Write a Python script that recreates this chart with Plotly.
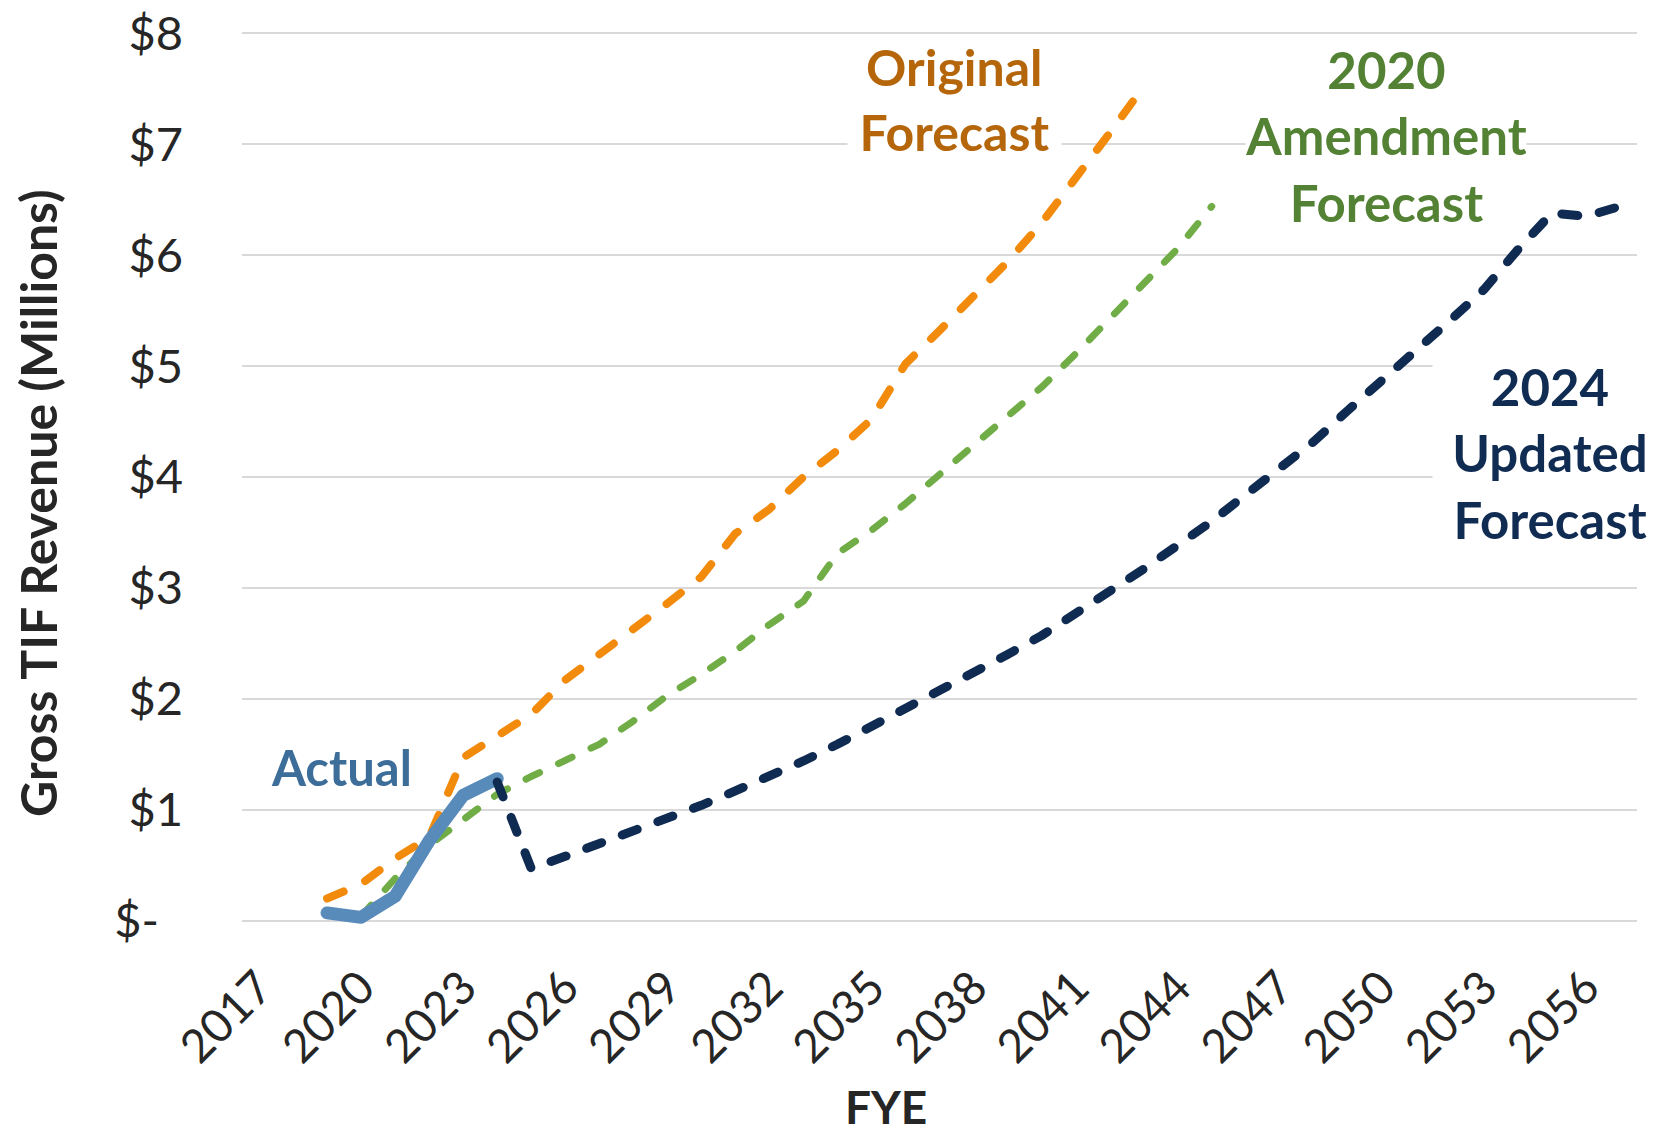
import plotly.graph_objects as go

# ---- data ----
actual_years = [2019, 2020, 2021, 2022, 2023, 2024]
actual_vals = [0.07, 0.03, 0.22, 0.72, 1.13, 1.28]

original_years = list(range(2019, 2044))
original_vals = [0.20, 0.33, 0.56, 0.75, 1.47, 1.66, 1.86, 2.17, 2.41, 2.63,
                 2.86, 3.10, 3.49, 3.71, 4.00, 4.24, 4.52, 5.02, 5.32, 5.63,
                 5.94, 6.29, 6.69, 7.10, 7.52]

amend_years = list(range(2020, 2046))
amend_vals = [0.04, 0.38, 0.68, 0.92, 1.14, 1.30, 1.45, 1.59, 1.80, 2.03,
              2.22, 2.43, 2.67, 2.88, 3.31, 3.52, 3.76, 4.02, 4.29, 4.53,
              4.81, 5.11, 5.42, 5.75, 6.06, 6.44]

updated_years = list(range(2024, 2058))
updated_vals = [1.25, 0.47, 0.58, 0.69, 0.80, 0.92, 1.04, 1.17, 1.30, 1.44,
                1.59, 1.75, 1.91, 2.06, 2.22, 2.40, 2.57, 2.76, 2.97, 3.17,
                3.38, 3.60, 3.84, 4.07, 4.32, 4.60, 4.86, 5.14, 5.41, 5.69,
                6.05, 6.38, 6.35, 6.44]

x_tick_years = list(range(2017, 2058, 3))
y_tick_vals = [0, 1, 2, 3, 4, 5, 6, 7, 8]
y_tick_text = ["$-", "$1", "$2", "$3", "$4", "$5", "$6", "$7", "$8"]

# ---- styling / geometry ----
FONT = "Lato"
W, H = 1665, 1136
Y_TOP_PX, Y_BOT_PX = 33, 921      # pixel rows of $8 and $- gridlines
X_LEFT_PX, X_RIGHT_PX = 242, 1637  # plot area edges
PAD = 0.03                         # small range padding so edge gridlines render
px_per_unit = (Y_BOT_PX - Y_TOP_PX) / 8.0
T = Y_TOP_PX - PAD * px_per_unit
B = H - Y_BOT_PX - PAD * px_per_unit
L = X_LEFT_PX
R = W - X_RIGHT_PX
PW = W - L - R
PH = H - T - B

fig = go.Figure()
fig.add_trace(go.Scatter(x=original_years, y=original_vals, mode="lines",
                         line=dict(color="#F28A0C", width=8, dash="18px,24px"),
                         name="Original Forecast"))
fig.add_trace(go.Scatter(x=amend_years, y=amend_vals, mode="lines",
                         line=dict(color="#70AD47", width=7, dash="15px,21px"),
                         name="2020 Amendment Forecast"))
fig.add_trace(go.Scatter(x=actual_years, y=actual_vals, mode="lines",
                         line=dict(color="#588BBA", width=13),
                         name="Actual"))
fig.add_trace(go.Scatter(x=updated_years, y=updated_vals, mode="lines",
                         line=dict(color="#0F2B52", width=9, dash="16px,22px"),
                         name="2024 Updated Forecast"))

ytext = [t + "\u00a0\u00a0" if t == "$-" else t for t in y_tick_text]


def px_to_paper(px, py):
    return (px - L) / PW, (H - B - py) / PH


annos = []
annos.append(dict(x=2019.41, y=1.39, xref="x", yref="y", text="<b>Actual</b>",
                  showarrow=False, xanchor="center", yanchor="middle",
                  font=dict(family=FONT, size=49, color="#3D6D99")))
annos.append(dict(x=2037.45, y=7.40, xref="x", yref="y",
                  text="<b>Original<br>Forecast</b>", showarrow=False,
                  xanchor="center", yanchor="middle", width=213,
                  bgcolor="white", borderpad=0,
                  font=dict(family=FONT, size=50, color="#B5660B")))
annos.append(dict(x=2050.13, y=7.07, xref="x", yref="y",
                  text="<b>2020<br>Amendment<br>Forecast</b>", showarrow=False,
                  xanchor="center", yanchor="middle", width=280,
                  bgcolor="white", borderpad=0,
                  font=dict(family=FONT, size=51, color="#548235")))
annos.append(dict(x=2054.95, y=4.22, xref="x", yref="y",
                  text="<b>2024<br>Updated<br>Forecast</b>", showarrow=False,
                  xanchor="center", yanchor="middle", width=234,
                  bgcolor="white", borderpad=0,
                  font=dict(family=FONT, size=51, color="#112C52")))

xt, yt = px_to_paper(38, 503)
annos.append(dict(x=xt, y=yt, xref="paper", yref="paper", textangle=-90,
                  xanchor="center", yanchor="middle",
                  text="<b>Gross TIF Revenue (Millions)</b>", showarrow=False,
                  font=dict(family=FONT, size=50, color="#262626")))
xf, yf = px_to_paper(886, 1107)
annos.append(dict(x=xf, y=yf, xref="paper", yref="paper",
                  xanchor="center", yanchor="middle",
                  text="<b>FYE</b>", showarrow=False,
                  font=dict(family=FONT, size=46, color="#262626")))

fig.update_layout(
    width=W, height=H,
    margin=dict(l=L, r=R, t=T, b=B, autoexpand=False),
    paper_bgcolor="white", plot_bgcolor="white",
    showlegend=False,
    font=dict(family=FONT, color="#262626"),
    annotations=annos,
)
fig.update_xaxes(range=[2016.5, 2057.5], tickmode="array", tickvals=x_tick_years,
                 ticktext=[str(v) for v in x_tick_years], tickangle=-45,
                 tickfont=dict(family=FONT, size=46, color="#262626"),
                 showgrid=False, zeroline=False, showline=False, ticks="",
                 ticklabelstandoff=26)
fig.update_yaxes(range=[-PAD, 8 + PAD], tickmode="array", tickvals=y_tick_vals,
                 ticktext=ytext, tickfont=dict(family=FONT, size=47, color="#262626"),
                 showgrid=True, gridcolor="#D9D9D9", gridwidth=2,
                 zeroline=False, showline=False, ticks="", ticklabelstandoff=58)

js = """
document.body.style.margin = '0';
document.body.style.overflow = 'hidden';
var gd = document.getElementById('{plot_id}');
function roundCaps(){
  gd.querySelectorAll('.scatterlayer .js-line').forEach(function(p){
    p.style.strokeLinecap = 'round';
    p.style.strokeLinejoin = 'round';
  });
}
roundCaps();
if (gd.on) { gd.on('plotly_afterplot', roundCaps); }
setTimeout(roundCaps, 50);
"""
fig.write_html("out.html", post_script=js, config={"displayModeBar": False})
